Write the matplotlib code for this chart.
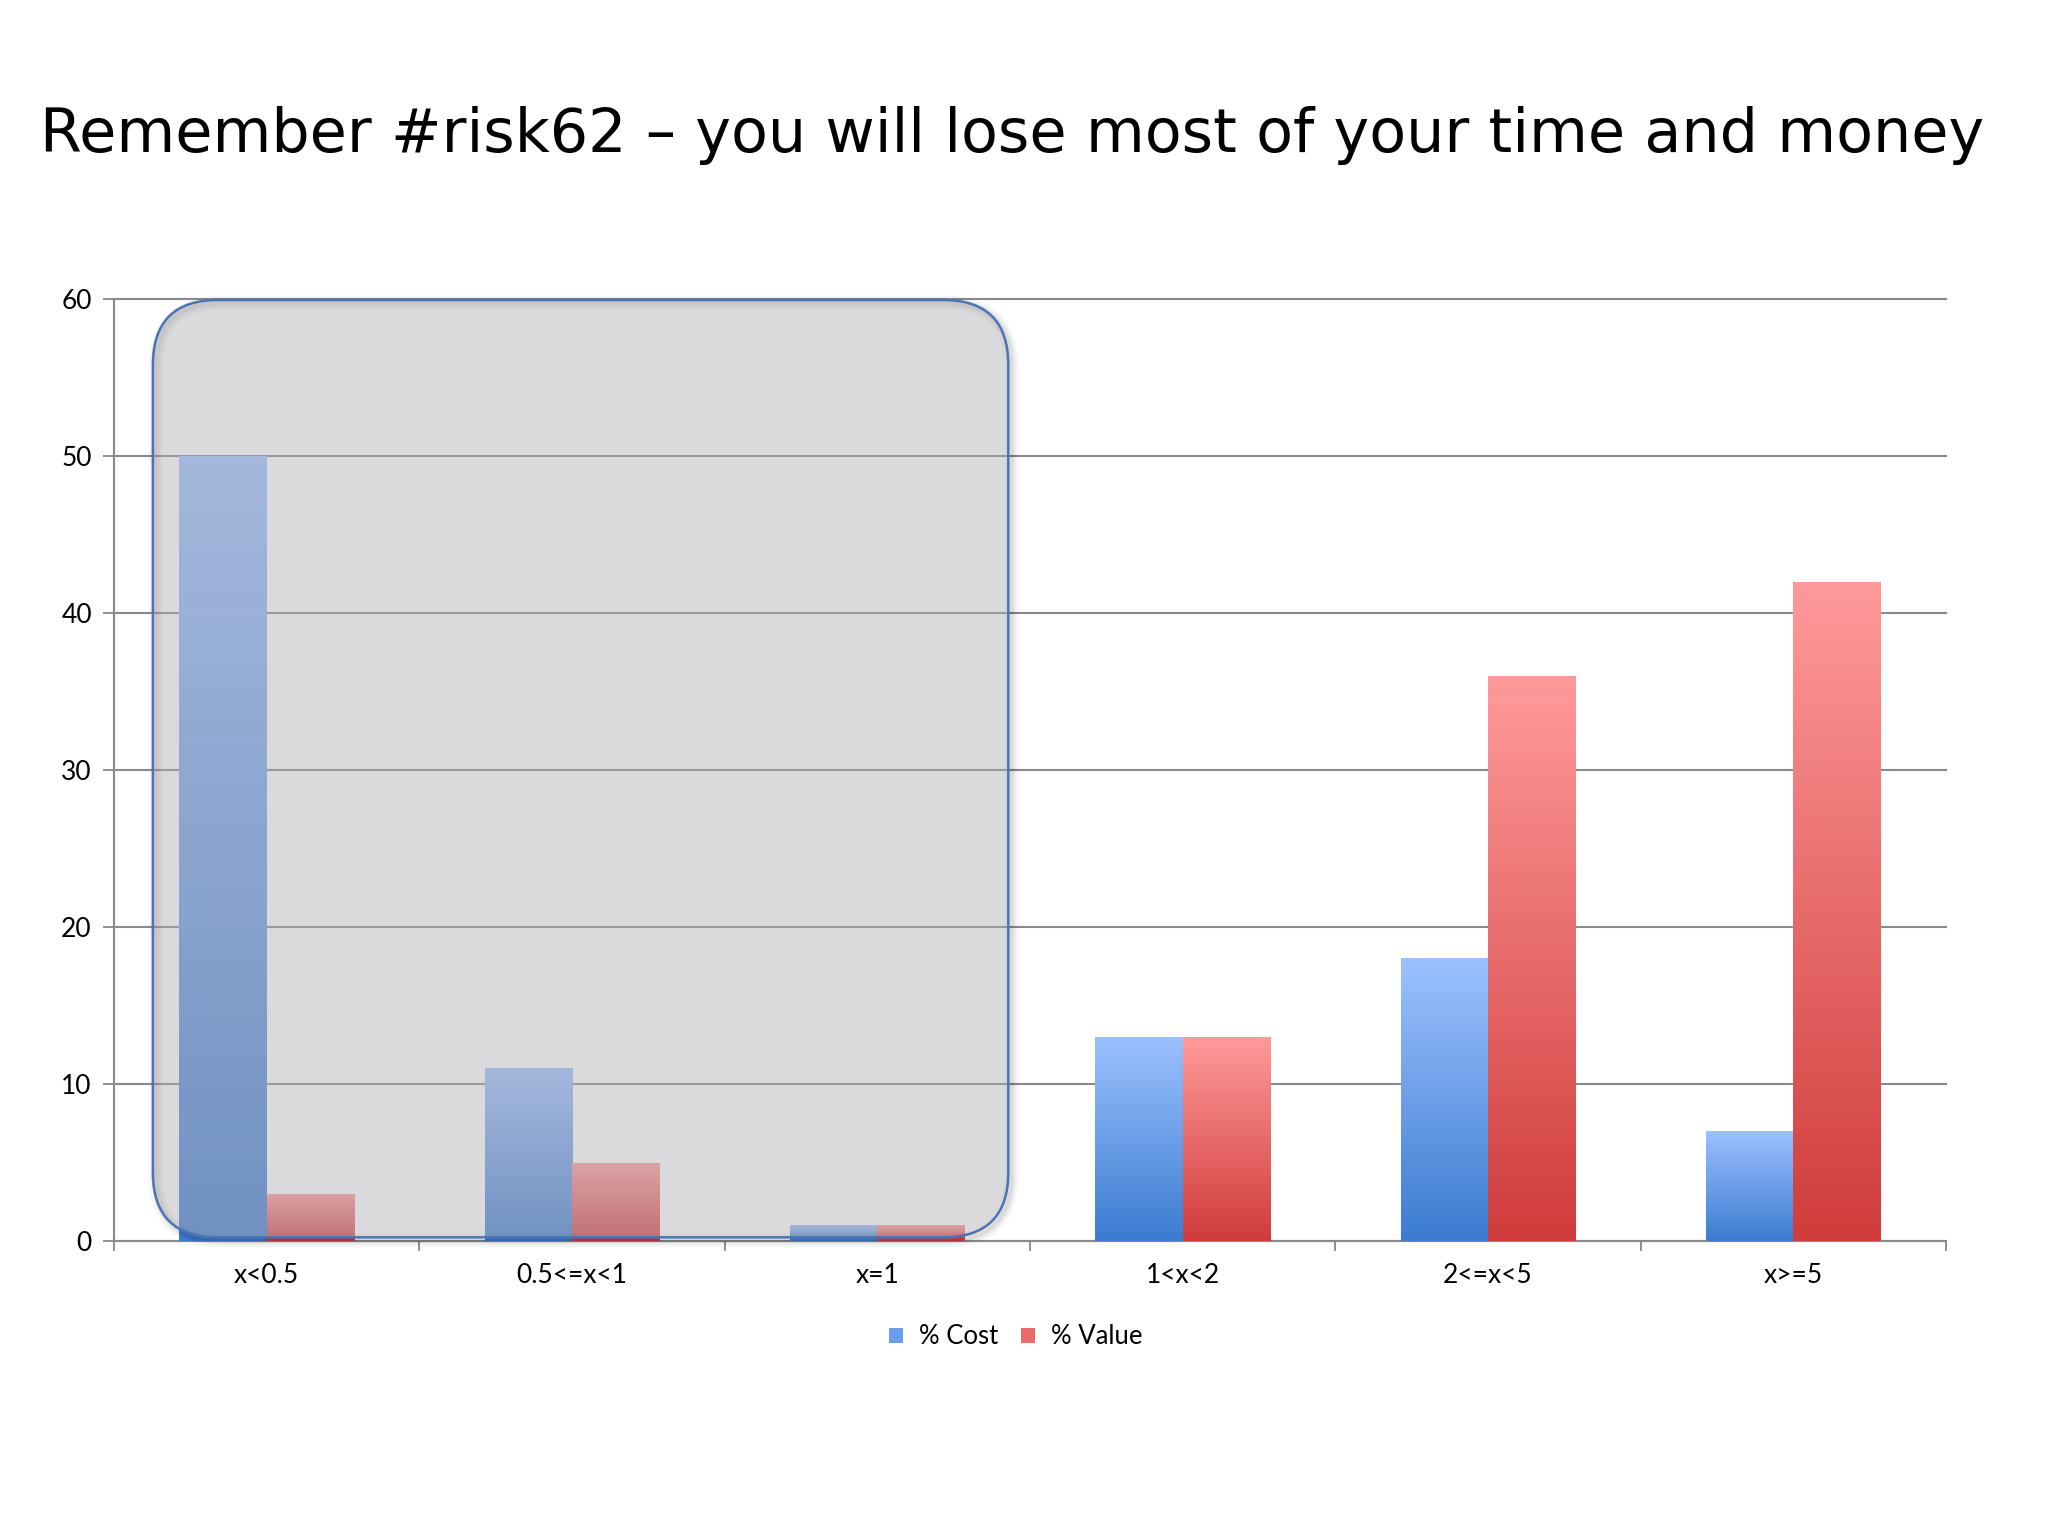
import numpy as np
import matplotlib
matplotlib.use("Agg")
import matplotlib.pyplot as plt
from matplotlib.patches import FancyBboxPatch, Patch
from matplotlib.colors import LinearSegmentedColormap

categories = ["x<0.5", "0.5<=x<1", "x=1", "1<x<2", "2<=x<5", "x>=5"]
cost = [50, 11, 1, 13, 18, 7]
value = [3, 5, 1, 13, 36, 42]
series_names = ["% Cost", "% Value"]
title = "Remember #risk62 \u2013 you will lose most of your time and money"
yticks = [0, 10, 20, 30, 40, 50, 60]

blue_cmap = LinearSegmentedColormap.from_list("b", ["#3c7cd0", "#9cc1ff"])
red_cmap = LinearSegmentedColormap.from_list("r", ["#d03c3c", "#ff9a9a"])

fig = plt.figure(figsize=(20.48, 15.36), dpi=100)
fig.patch.set_facecolor("white")
ax = fig.add_axes([0.0557, 0.192, 0.8945, 0.6133])
ax.set_facecolor("none")

x = np.arange(len(categories))
w = 0.286
grad = np.linspace(0, 1, 256).reshape(-1, 1)

def gradient_bars(xs, heights, cmap, label):
    bars = ax.bar(xs, heights, width=w, color="none", edgecolor="none", label=label, zorder=3)
    for b in bars:
        x0, y0 = b.get_x(), b.get_y()
        im = ax.imshow(grad, cmap=cmap, origin="lower", aspect="auto",
                       extent=(x0, x0 + b.get_width(), y0, y0 + b.get_height()),
                       zorder=3, interpolation="bilinear")
        im.set_clip_path(b)
    return bars

gradient_bars(x - w / 2, cost, blue_cmap, series_names[0])
gradient_bars(x + w / 2, value, red_cmap, series_names[1])

ax.set_xlim(-0.5, len(categories) - 0.5)
ax.set_ylim(0, 60)
ax.set_yticks(yticks)
ax.set_yticklabels([str(t) for t in yticks], fontfamily="Lato", fontsize=19)
ax.set_xticks(x)
ax.set_xticklabels(categories, fontfamily="Lato", fontsize=19)
ax.set_xticks(np.arange(-0.5, len(categories)), minor=True)
ax.tick_params(axis="x", which="major", length=0, pad=16)
ax.tick_params(axis="x", which="minor", length=7, color="#888888", width=1.3)
ax.tick_params(axis="y", length=8, color="#888888", width=1.3, pad=8)
ax.yaxis.grid(True, color="#8a8a8a", linewidth=1.5, zorder=1)
for gl in ax.get_ygridlines():
    gl.set_clip_on(False)
ax.set_axisbelow(True)
for s in ["top", "right"]:
    ax.spines[s].set_visible(False)
for s in ["left", "bottom"]:
    ax.spines[s].set_color("#8a8a8a")
    ax.spines[s].set_linewidth(1.5)

# highlight overlay (axes fraction coords)
aw = 0.8945 * 2048
ah = 0.6133 * 1536
asp = aw / ah
bx0, bx1 = (117 * 1.306 - 114) / aw, (772 * 1.306 - 114) / aw
by0, by1 = 0.004, 0.999
r = 65 / aw
for i, (lw, a) in enumerate([(10, 0.04), (6, 0.05), (3, 0.06)]):
    off = 3
    sh = FancyBboxPatch((bx0 + off / aw, by0 - off / ah), bx1 - bx0, by1 - by0,
                        boxstyle=f"round,pad=0,rounding_size={r}", mutation_aspect=asp,
                        transform=ax.transAxes, facecolor="none", edgecolor="black",
                        linewidth=lw, alpha=a, zorder=4, clip_on=False)
    ax.add_patch(sh)
box = FancyBboxPatch((bx0, by0), bx1 - bx0, by1 - by0,
                     boxstyle=f"round,pad=0,rounding_size={r}", mutation_aspect=asp,
                     transform=ax.transAxes, facecolor=(175/255, 173/255, 179/255, 0.46),
                     edgecolor="#4a74b4", linewidth=1.8, zorder=5, clip_on=False)
ax.add_patch(box)

fig.text(0.494, 0.912, title, ha="center", va="center", fontsize=43.5,
         fontfamily="DejaVu Sans", color="black")

handles = [Patch(facecolor="#6a9ee8", edgecolor="none"), Patch(facecolor="#e86a6a", edgecolor="none")]
fig.legend(handles, series_names, loc="center", bbox_to_anchor=(0.496, 0.1296), ncol=2,
           frameon=False, prop={"family": "Lato", "size": 18.5}, handlelength=0.55,
           handleheight=0.55, handletextpad=0.6, columnspacing=0.9)

fig.savefig("out.png", dpi=100, facecolor="white")
